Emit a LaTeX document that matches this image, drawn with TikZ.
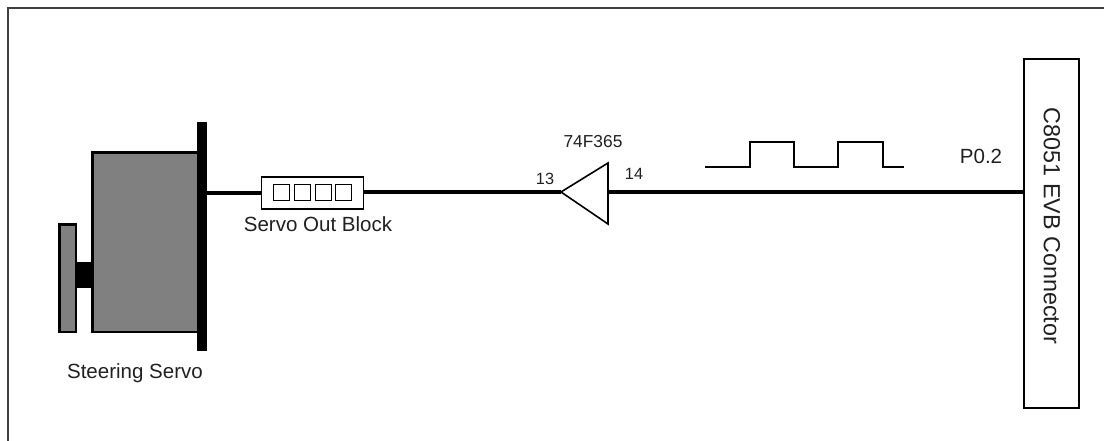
\documentclass[tikz,border=0pt]{standalone}
\usepackage{fontspec}
\setmainfont{Liberation Sans}
\usepackage{tikz}
\usetikzlibrary{calc}
\definecolor{servogray}{HTML}{808080}
\definecolor{framegray}{HTML}{404040}
\definecolor{labelgray}{HTML}{202020}
\tikzset{
  wire/.style={line width=2.7pt, black},
  outline/.style={draw=black, line width=1.6pt},
  pulse/.style={line width=1.1pt, line join=miter},
  pinbox/.style={draw=black, line width=0.9pt, minimum size=11.5pt, inner sep=0pt, outer sep=0pt},
  label/.style={inner sep=0pt, text=labelgray, font=\fontsize{15.4}{17}\selectfont},
  smalllabel/.style={inner sep=0pt, text=labelgray, font=\fontsize{13}{15}\selectfont},
  pinlabel/.style={inner sep=0pt, text=labelgray, font=\fontsize{12.2}{14}\selectfont}
}

\begin{document}
\begin{tikzpicture}[x=0.75pt, y=-0.75pt]

  \useasboundingbox (0,0) rectangle (1104,441);

  % page frame
  \draw[framegray, line width=0.9pt] (8,441) -- (8,8) -- (1104,8);

  % steering servo
  \draw[outline, fill=servogray] (59.5,224.5) rectangle (76,332);
  \draw[outline, fill=servogray] (92.5,152.5) rectangle (198,332);
  \node[fill=black, inner sep=0pt, outer sep=0pt, minimum width=12.75pt, minimum height=19.5pt]
    (shaft) at (84,275) {};
  \node[fill=black, inner sep=0pt, outer sep=0pt, minimum width=7.5pt, minimum height=172pt]
    (plate) at (202,236.5) {};
  \node[label] (servolabel) at (135,373.5) {Steering Servo};

  % servo out block
  \node[draw=black, line width=0.9pt, inner sep=0pt, outer sep=0pt, minimum width=76pt, minimum height=24pt]
    (block) at (312.5,193) {};
  \foreach \x/\name in {
    281.5/pina,
    302.5/pinb,
    323.5/pinc,
    343.5/pind
  }{
    \node[pinbox] (\name) at (\x,192.5) {};
  }
  \node[label] (blocklabel) at (318,224) {Servo Out Block};

  % buffer
  \coordinate (buftip) at (561,192);
  \coordinate (buftop) at (608,163);
  \coordinate (bufbot) at (608,224);
  \coordinate (bufout) at (608,192);
  \draw[line width=1.2pt, line join=miter] (buftip) -- (buftop) -- (bufbot) -- cycle;
  \node[smalllabel] (buflabel) at (593,142) {74F365};
  \node[pinlabel] (pinin) at (545,179) {13};
  \node[pinlabel] (pinout) at (634,174) {14};

  % connector
  \node[draw=black, line width=1.6pt, inner sep=0pt, outer sep=0pt, minimum width=41.5pt, minimum height=262pt]
    (evb) at (1051.5,233.5) {};
  \node[inner sep=0pt, text=labelgray, rotate=-90, font=\fontsize{17.5}{20}\selectfont]
    (evblabel) at (1052,226) {C8051 EVB Connector};
  \node[label] (portlabel) at (981,156) {P0.2};

  % wires
  \draw[wire] (plate.east |- block.west) -- (block.west);
  \draw[wire] (block.east) ++(0,-1) -- (buftip);
  \draw[wire] (bufout) -- (evb.west |- bufout);

  % pulse train
  \draw[pulse] (705,167) -- (750,167) -- (750,142) -- (794,142) -- (794,167)
    -- (838,167) -- (838,142) -- (883,142) -- (883,167) -- (904,167);
  \foreach \x/\xx in {750/794, 838/883}{
    \draw[line width=1.6pt] (\x,142) -- (\xx,142);
  }

\end{tikzpicture}
\end{document}
